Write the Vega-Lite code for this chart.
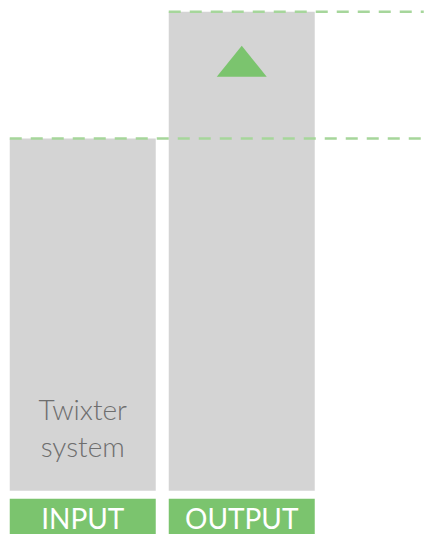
{
  "$schema": "https://vega.github.io/schema/vega-lite/v6.json",
  "padding": {"left": 7.75, "top": 9.75, "right": 0, "bottom": 0},
  "spacing": 8,
  "background": "white",
  "config": {"view": {"stroke": null}, "font": "Lato"},
  "datasets": {
    "stages": [
      {"stage": "INPUT", "value": 100, "label": ["Twixter", "system"]},
      {"stage": "OUTPUT", "value": 136, "label": null}
    ]
  },
  "vconcat": [
    {
      "width": 414,
      "height": 479,
      "data": {"name": "stages"},
      "encoding": {
        "x": {"field": "stage", "type": "nominal", "axis": null,
              "scale": {"type": "band", "range": [0, 305], "paddingInner": 0.0818, "paddingOuter": 0}}
      },
      "layer": [
        {
          "mark": {"type": "bar", "color": "#d4d4d4"},
          "encoding": {
            "y": {"field": "value", "type": "quantitative", "axis": null,
                  "scale": {"domain": [0, 136], "nice": false, "zero": true}}
          }
        },
        {
          "mark": {"type": "rule", "color": "#a6d69b", "strokeWidth": 2.5, "strokeDash": [12, 9]},
          "encoding": {
            "x": {"field": "stage", "type": "nominal", "bandPosition": 0},
            "x2": {"value": "width"},
            "y": {"field": "value", "type": "quantitative"}
          }
        },
        {
          "transform": [{"filter": "datum.stage === 'OUTPUT'"}],
          "mark": {"type": "point", "shape": "M-1,0.62L1,0.62L0,-0.62Z", "size": 2500, "filled": true, "opacity": 1, "color": "#7bc46e", "yOffset": 49.5},
          "encoding": {
            "y": {"field": "value", "type": "quantitative"}
          }
        },
        {
          "transform": [{"filter": "datum.stage === 'INPUT'"}],
          "mark": {"type": "text", "fontSize": 28, "fontWeight": 300, "color": "#6e6e6e", "baseline": "bottom", "align": "center", "lineHeight": 37, "dy": -65},
          "encoding": {
            "y": {"datum": 0, "type": "quantitative"},
            "text": {"field": "label"}
          }
        }
      ]
    },
    {
      "width": 414,
      "height": 36,
      "data": {"name": "stages"},
      "encoding": {
        "x": {"field": "stage", "type": "nominal", "axis": null,
              "scale": {"type": "band", "range": [0, 305], "paddingInner": 0.0818, "paddingOuter": 0}}
      },
      "layer": [
        {"mark": {"type": "bar", "color": "#7bc46e"}},
        {
          "mark": {"type": "text", "fontSize": 28, "fontWeight": "normal", "color": "white", "baseline": "alphabetic", "dy": 12},
          "encoding": {"text": {"field": "stage"}}
        }
      ]
    }
  ]
}
